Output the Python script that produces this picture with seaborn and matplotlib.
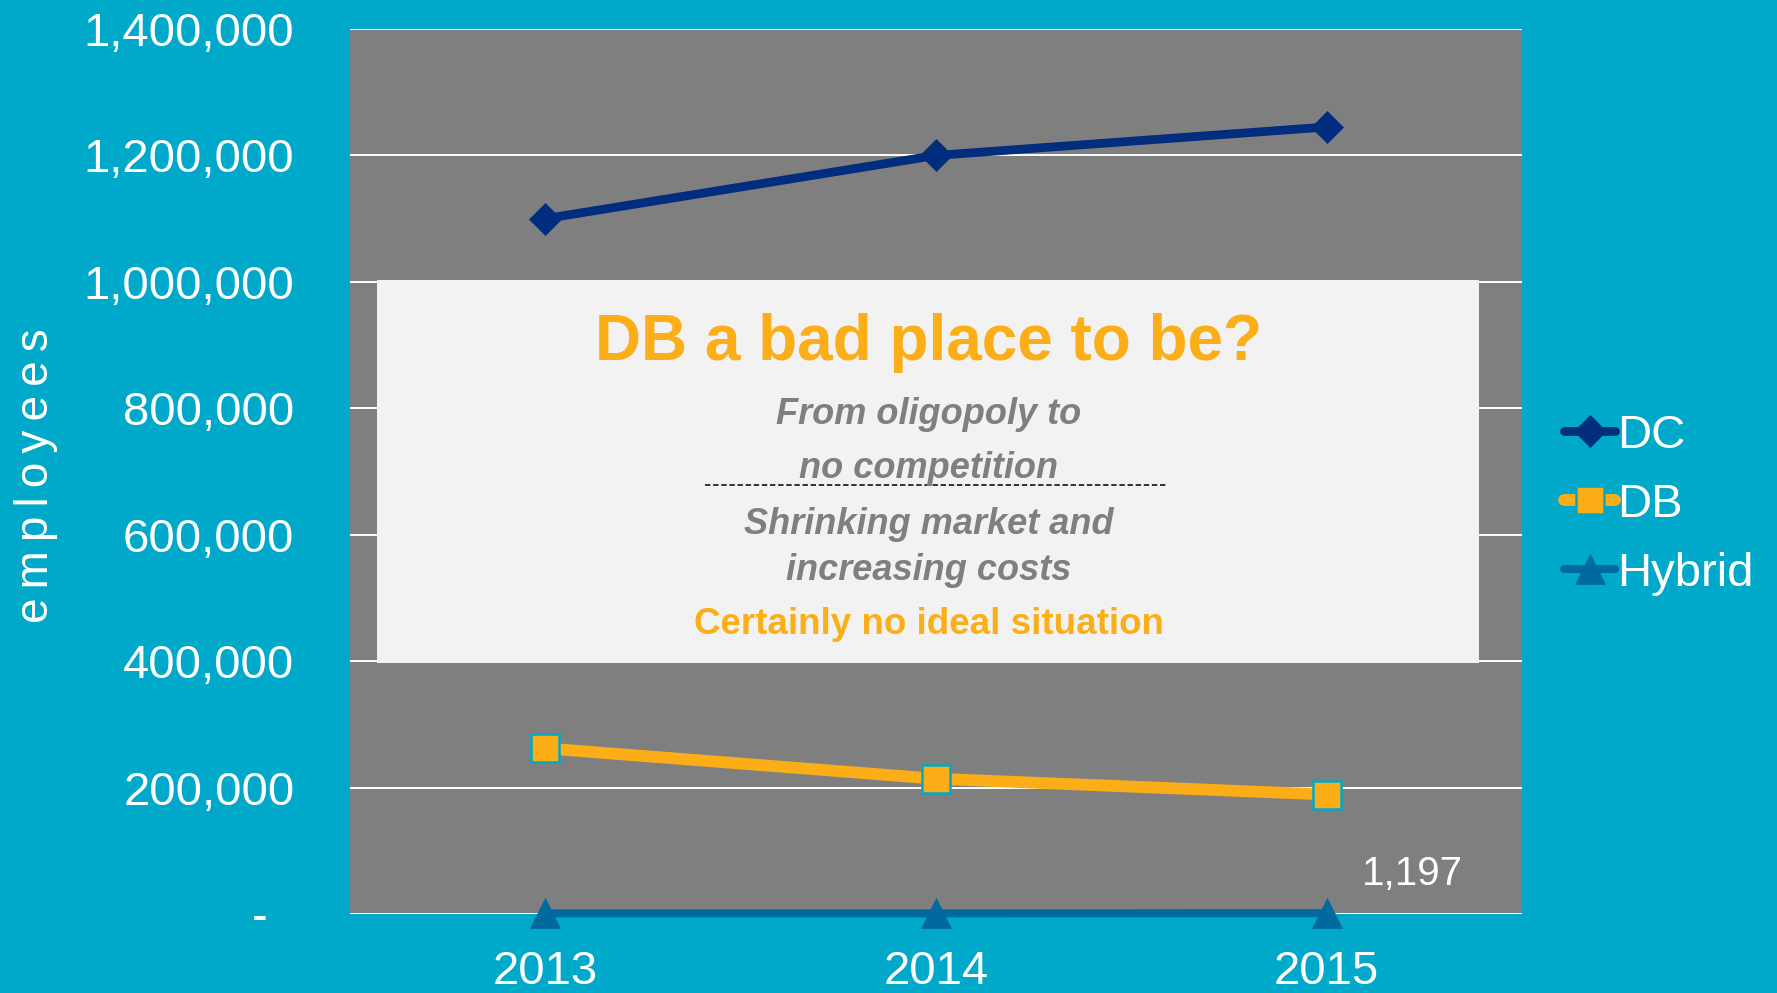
import matplotlib
matplotlib.use("Agg")
import matplotlib.pyplot as plt
import seaborn as sns
import pandas as pd
from matplotlib.patches import Rectangle

# ---- data ----
years = ["2013", "2014", "2015"]
dc_values = [1100000, 1200000, 1245000]
db_values = [262000, 214000, 189000]
hybrid_values = [1000, 1100, 1197]
y_ticks = [0, 200000, 400000, 600000, 800000, 1000000, 1200000, 1400000]
y_tick_labels = ["-  ", "200,000", "400,000", "600,000", "800,000",
                 "1,000,000", "1,200,000", "1,400,000"]
series_names = ["DC", "DB", "Hybrid"]
hybrid_label = "1,197"

# ---- style ----
BG = "#00A9C9"
PLOT_BG = "#7F7F7F"
C_DC = "#002D7D"
C_DB = "#FBAE17"
C_HY = "#006A9E"
GRAY_TXT = "#7F7F7F"
FONT = ["Liberation Sans", "DejaVu Sans"]

sns.set_theme(style="white")
plt.rcParams["font.family"] = FONT

W, H = 1777, 993
fig = plt.figure(figsize=(W / 100, H / 100), dpi=100, facecolor=BG)
ax = fig.add_axes([350 / W, 79 / H, 1172 / W, 885 / H])
ax.set_facecolor(PLOT_BG)

x_idx = list(range(len(years)))
df = pd.DataFrame({"x": x_idx * 3,
                   "value": dc_values + db_values + hybrid_values,
                   "series": ["DC"] * 3 + ["DB"] * 3 + ["Hybrid"] * 3})

styles = {
    "DC": dict(color=C_DC, marker="D", markersize=16, linewidth=6.3,
               markeredgecolor=C_DC, markeredgewidth=0.5),
    "DB": dict(color=C_DB, marker="s", markersize=20, linewidth=8.5,
               markeredgecolor=BG, markeredgewidth=1.8),
    "Hybrid": dict(color=C_HY, marker="^", markersize=21, linewidth=5.8,
                   markeredgecolor=C_HY, markeredgewidth=0.5),
}
for name in series_names:
    sub = df[df["series"] == name]
    sns.lineplot(data=sub, x="x", y="value", ax=ax, label=name,
                 solid_capstyle="round", clip_on=False, zorder=4,
                 **styles[name])

# text box
ax.add_patch(Rectangle((27 / 1172, (914 - 663) / 885), (1479 - 377) / 1172,
                       (663 - 280) / 885, transform=ax.transAxes,
                       facecolor="#F2F2F2", edgecolor="none", zorder=2))

ax.set_xlim(-0.5, 2.5)
ax.set_ylim(0, 1400000)
ax.set_xticks(x_idx)
ax.set_xticklabels(years)
ax.set_yticks(y_ticks)
ax.set_yticklabels(y_tick_labels)
ax.tick_params(axis="both", length=0, labelsize=34, colors="white")
ax.tick_params(axis="y", pad=40)
ax.tick_params(axis="x", pad=26)
ax.yaxis.grid(True, color="white", linewidth=1.4)
ax.xaxis.grid(False)
ax.set_axisbelow(True)
for s in ax.spines.values():
    s.set_visible(False)
ax.set_xlabel("")
ax.set_ylabel("")

# hybrid data label
ax.annotate(hybrid_label, xy=(x_idx[2], hybrid_values[2]), xytext=(62, 28),
            textcoords="offset points", ha="center", va="center",
            color="white", fontsize=29, zorder=5)

# y-axis title (letter-spaced)
fig.text(36 / W, 1 - 476 / H, "\u2009".join("employees"), rotation=90,
         ha="center", va="center", color="white", fontsize=33, family=FONT)

# legend
ax.legend(loc="center left", bbox_to_anchor=(1564 / W, 1 - 505 / H),
          bbox_transform=fig.transFigure, frameon=False, fontsize=34,
          labelcolor="white", handlelength=1.08, handletextpad=0.05,
          labelspacing=0.53, borderpad=0, borderaxespad=0)

# annotation texts
cx = 929 / W
fig.text(cx, 1 - 343 / H, "DB a bad place to be?", ha="center", va="center",
         color=C_DB, fontsize=46, fontweight="bold")
for txt, yy in [("From oligopoly to", 415), ("no competition", 469),
                ("Shrinking market and", 525), ("increasing costs", 570)]:
    fig.text(cx, 1 - yy / H, txt, ha="center", va="center", color=GRAY_TXT,
             fontsize=26, fontweight="bold", fontstyle="italic")
fig.text(cx, 1 - 625 / H, "Certainly no ideal situation", ha="center",
         va="center", color=C_DB, fontsize=26.5, fontweight="bold")
fig.add_artist(plt.Line2D([705 / W, 1167 / W], [1 - 485 / H, 1 - 485 / H],
                          transform=fig.transFigure, color="#222222",
                          linewidth=1.3, linestyle=(0, (3, 1.5))))

fig.savefig("out.png", dpi=100, facecolor=BG)
